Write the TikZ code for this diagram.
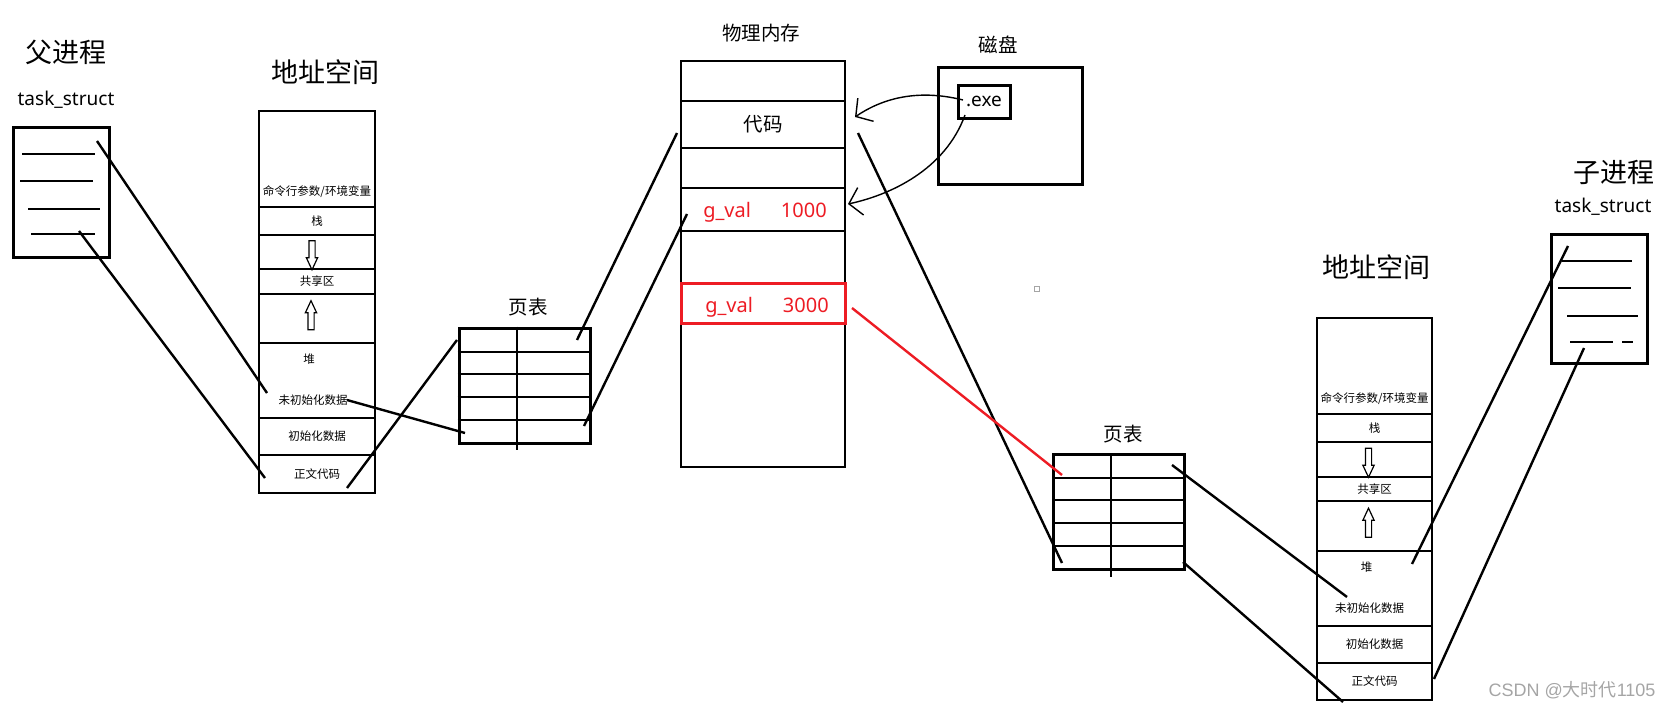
\documentclass[tikz,border=0pt]{standalone}
\usepackage{fontspec}
\usepackage{tikz}
\setmainfont{Noto Sans}
\newfontfamily\cjk{Noto Sans CJK SC}
\newfontfamily\wmfont{Liberation Sans}
\usetikzlibrary{positioning, shapes.arrows, arrows.meta}
\definecolor{paintred}{RGB}{237,28,36}
\definecolor{markgray}{RGB}{165,165,165}
\tikzstyle{heading} = [font=\cjk\fontsize{27}{30}\selectfont, inner sep=0pt]
\tikzstyle{caption} = [font=\cjk\fontsize{19.5}{22}\selectfont, inner sep=0pt]
\tikzstyle{structname} = [font=\fontsize{19}{22}\selectfont, inner sep=0pt]
\tikzstyle{seglabel} = [font=\cjk\fontsize{11.5}{13}\selectfont, inner sep=0pt]
\tikzstyle{taskbox} = [draw, line width=3pt, minimum width=96pt, minimum height=130pt, inner sep=0pt]
\tikzstyle{field} = [line width=1.6pt]
\tikzstyle{segrow} = [draw, line width=1.2pt, minimum width=116pt, inner sep=0pt, outer sep=0pt, font=\cjk\fontsize{11.5}{13}\selectfont]
\tikzstyle{spaceedge} = [line width=2.4pt]
\tikzstyle{growarrow} = [draw, single arrow, line width=1.2pt, minimum height=29pt, inner sep=2.5pt, single arrow head extend=2.5pt, single arrow tip angle=50]
\tikzstyle{memrow} = [draw, line width=2.6pt, minimum width=164pt, inner sep=0pt, outer sep=0pt, font=\cjk\fontsize{19.5}{22}\selectfont]
\tikzstyle{memtext} = [font=\fontsize{20}{24}\selectfont, text=paintred, inner sep=0pt, anchor=base]
\tikzstyle{pagetable} = [draw, line width=3pt, minimum width=131pt, minimum height=115pt, inner sep=0pt]
\tikzstyle{tablerule} = [line width=2pt]
\tikzstyle{link} = [line width=2.4pt]
\tikzstyle{loadarrow} = [line width=1.4pt, -{Straight Barb[length=12pt,width=28pt]}]

\begin{document}
\begin{tikzpicture}[x=1pt, y=-1pt]
	\useasboundingbox (0,0) rectangle (1673,709);

	% parent process
	\node (ptitle) [heading] at (66,52) {父进程};
	\node (pname) [structname] at (66,100) {task\_struct};
	\node (ptask) [taskbox] at (61,192) {};
	\draw [field] (22,154) -- (95,154);
	\draw [field] (20,181) -- (93,181);
	\draw [field] (28,209) -- (100,209);
	\draw [field] (31,234) -- (95,234);

	% parent address space
	\node (ltitle) [heading] at (325,72) {地址空间};
	\node (ls1) [segrow, minimum height=96pt, anchor=north west] at (259,111) {};
	\node (ls2) [segrow, minimum height=28pt, below=0pt of ls1] {栈};
	\node (ls3) [segrow, minimum height=34pt, below=0pt of ls2] {};
	\node (ls4) [segrow, minimum height=25pt, below=0pt of ls3] {共享区};
	\node (ls5) [segrow, minimum height=49pt, below=0pt of ls4] {};
	\node (ls6) [segrow, minimum height=75pt, below=0pt of ls5] {};
	\node (ls7) [segrow, minimum height=37pt, below=0pt of ls6] {初始化数据};
	\node (ls8) [segrow, minimum height=38pt, below=0pt of ls7] {正文代码};
	\node (largs) [seglabel] at ([yshift=15pt]ls1.south) {命令行参数/环境变量};
	\node (lheap) [seglabel] at ([xshift=-8pt, yshift=-16pt]ls6.north) {堆};
	\node (lbss) [seglabel] at ([xshift=-4pt, yshift=18pt]ls6.south) {未初始化数据};
	\node (ldown) [growarrow, rotate=-90] at ([xshift=-5pt]ls3.center) {};
	\node (lup) [growarrow, rotate=90] at ([xshift=-6pt]ls5.center) {};
	\draw [spaceedge] (ls6.north west) -- (ls6.north east);
	\draw [spaceedge] (ls1.north west) rectangle (ls8.south east);

	% parent page table
	\node (lpttitle) [caption] at (528,307) {页表};
	\node (lpt) [pagetable] at (524.5,385.5) {};
	\draw [tablerule] ([xshift=59pt]lpt.north west) -- ([xshift=59pt, yshift=-5pt]lpt.south west);
	\draw [tablerule] ([yshift=-25pt]lpt.north west) -- ([yshift=-25pt]lpt.north east);
	\draw [tablerule] ([yshift=-47pt]lpt.north west) -- ([yshift=-47pt]lpt.north east);
	\draw [tablerule] ([yshift=-70pt]lpt.north west) -- ([yshift=-70pt]lpt.north east);
	\draw [tablerule] ([yshift=-93pt]lpt.north west) -- ([yshift=-93pt]lpt.north east);

	% physical memory
	\node (pmtitle) [caption] at (761,33) {物理内存};
	\node (pm1) [memrow, minimum height=40pt, anchor=north west] at (681,61) {};
	\node (pm2) [memrow, minimum height=47pt, below=0pt of pm1] {代码};
	\node (pm3) [memrow, minimum height=40pt, below=0pt of pm2] {};
	\node (pm4) [memrow, minimum height=43pt, below=0pt of pm3] {};
	\node (pm5) [memrow, minimum height=52pt, below=0pt of pm4] {};
	\node (pm6) [memrow, minimum height=40pt, below=0pt of pm5] {};
	\node (pm7) [memrow, minimum height=144pt, below=0pt of pm6] {};
	\draw [paintred, line width=3pt] (pm6.north west) rectangle (pm6.south east);
	\node (oldval) [memtext] at (765,217) {g\_val\hspace{30pt}1000};
	\node (newval) [memtext] at (767,312) {g\_val\hspace{30pt}3000};

	% disk
	\node (dtitle) [caption] at (998,45) {磁盘};
	\node (disk) [draw, line width=3pt, minimum width=144pt, minimum height=116pt] at (1010,126) {};
	\node (exe) [draw, line width=3pt, minimum width=52pt, minimum height=33pt, inner sep=0pt, font=\fontsize{19}{22}\selectfont] at (984,101.5) {.exe};
	\draw [markgray, line width=1pt] (1034,286) rectangle (1039,291);

	% child page table
	\node (rpttitle) [caption] at (1123,434) {页表};
	\node (rpt) [pagetable] at (1119,512) {};
	\draw [tablerule] ([xshift=59pt]rpt.north west) -- ([xshift=59pt, yshift=-6pt]rpt.south west);
	\draw [tablerule] ([yshift=-25pt]rpt.north west) -- ([yshift=-25pt]rpt.north east);
	\draw [tablerule] ([yshift=-47pt]rpt.north west) -- ([yshift=-47pt]rpt.north east);
	\draw [tablerule] ([yshift=-70pt]rpt.north west) -- ([yshift=-70pt]rpt.north east);
	\draw [tablerule] ([yshift=-93pt]rpt.north west) -- ([yshift=-93pt]rpt.north east);

	% child address space
	\node (rtitle) [heading] at (1376,267) {地址空间};
	\node (rs1) [segrow, minimum width=115pt, minimum height=96pt, anchor=north west] at (1317,318) {};
	\node (rs2) [segrow, minimum width=115pt, minimum height=28pt, below=0pt of rs1] {栈};
	\node (rs3) [segrow, minimum width=115pt, minimum height=35pt, below=0pt of rs2] {};
	\node (rs4) [segrow, minimum width=115pt, minimum height=24pt, below=0pt of rs3] {共享区};
	\node (rs5) [segrow, minimum width=115pt, minimum height=50pt, below=0pt of rs4] {};
	\node (rs6) [segrow, minimum width=115pt, minimum height=75pt, below=0pt of rs5] {};
	\node (rs7) [segrow, minimum width=115pt, minimum height=37pt, below=0pt of rs6] {初始化数据};
	\node (rs8) [segrow, minimum width=115pt, minimum height=37pt, below=0pt of rs7] {正文代码};
	\node (rargs) [seglabel] at ([yshift=15pt]rs1.south) {命令行参数/环境变量};
	\node (rheap) [seglabel] at ([xshift=-8pt, yshift=-16pt]rs6.north) {堆};
	\node (rbss) [seglabel] at ([xshift=-5pt, yshift=18pt]rs6.south) {未初始化数据};
	\node (rdown) [growarrow, rotate=-90] at ([xshift=-6pt]rs3.center) {};
	\node (rup) [growarrow, rotate=90] at ([xshift=-6pt]rs5.center) {};
	\draw [spaceedge] (rs6.north west) -- (rs6.north east);
	\draw [spaceedge] (rs1.north west) rectangle (rs8.south east);

	% child process
	\node (ctitle) [heading] at (1614,172) {子进程};
	\node (cname) [structname] at (1603,207) {task\_struct};
	\node (ctask) [taskbox, minimum height=129pt] at (1599,298.5) {};
	\draw [field] (1562,261) -- (1632,261);
	\draw [field] (1558,288) -- (1631,288);
	\draw [field] (1567,316) -- (1638,316);
	\draw [field] (1570,342) -- (1613,342);
	\draw [field] (1622,342) -- (1633,342);

	% link end points
	\coordinate (pf1) at (97,141);
	\coordinate (pf4) at (79,231);
	\coordinate (lbssin) at (267,393);
	\coordinate (ltextin) at (265,478);
	\coordinate (lbssout) at (347,400);
	\coordinate (ltextout) at (347,488);
	\coordinate (lptrow1) at (457,340);
	\coordinate (lptrow5) at (465,433);
	\coordinate (lptframe1) at (577,340);
	\coordinate (lptframe5) at (584,426);
	\coordinate (pmcodel) at (677,133);
	\coordinate (pmvall) at (687,214);
	\coordinate (pmcoder) at (858,133);
	\coordinate (pmnewr) at (852,308);
	\coordinate (rptrow1) at (1062,475);
	\coordinate (rptrow5) at (1062,563);
	\coordinate (rptframe1) at (1172,465);
	\coordinate (rptframe5) at (1183,562);
	\coordinate (rbssin) at (1347,597);
	\coordinate (rtextin) at (1343,702);
	\coordinate (rheapout) at (1412,564);
	\coordinate (rtextout) at (1434,679);
	\coordinate (cf1) at (1568,246);
	\coordinate (cf4) at (1584,348);
	\coordinate (exeout1) at (963,100);
	\coordinate (exeout2) at (965,115);
	\coordinate (pmcodein) at (855,117);
	\coordinate (pmvalin) at (848,204);

	\draw [link] (pf1) -- (lbssin);
	\draw [link] (pf4) -- (ltextin);
	\draw [link] (lbssout) -- (lptrow5);
	\draw [link] (ltextout) -- (lptrow1);
	\draw [link] (lptframe1) -- (pmcodel);
	\draw [link] (lptframe5) -- (pmvall);
	\draw [link] (pmcoder) -- (rptrow5);
	\draw [link, paintred] (pmnewr) -- (rptrow1);
	\draw [link] (rptframe1) -- (rbssin);
	\draw [link] (rptframe5) -- (rtextin);
	\draw [link] (rheapout) -- (cf1);
	\draw [link] (rtextout) -- (cf4);
	\draw [loadarrow] (exeout1) .. controls (915,88) and (880,100) .. (pmcodein);
	\draw [loadarrow] (exeout2) .. controls (945,170) and (890,195) .. (pmvalin);

	% watermark
	\node (mark) [inner sep=0pt, text=markgray, font=\fontsize{18}{20}\selectfont] at (1572,690) {\wmfont CSDN @{\cjk 大时代}1105};

\end{tikzpicture}
\end{document}
